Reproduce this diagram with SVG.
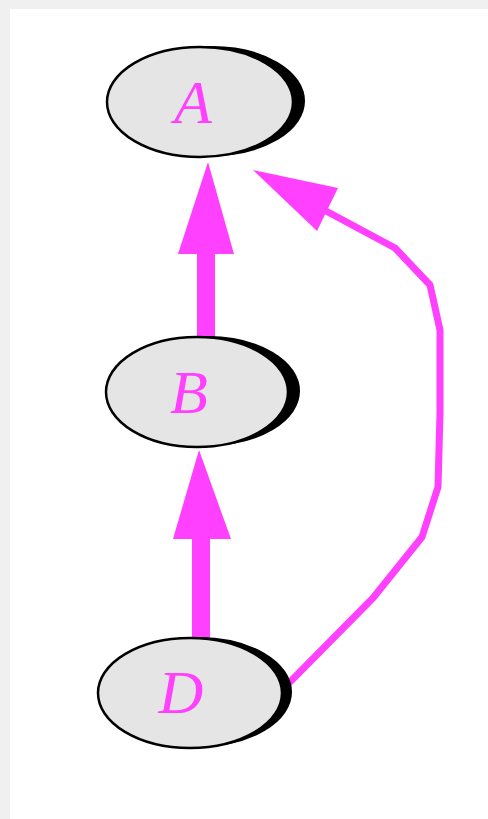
<svg xmlns="http://www.w3.org/2000/svg" width="488" height="819" viewBox="0 0 488 819">
<style>
.shadow{fill:#000;stroke:#000;stroke-width:2}
.node{fill:#e5e5e5;stroke:#000;stroke-width:2.5}
.label{font-family:"Liberation Serif",serif;font-style:italic;font-size:62px;fill:#ff40ff;text-anchor:middle}
.edge{stroke:#ff40ff;fill:none}
.head{fill:#ff40ff;stroke:none}
</style>
<rect x="0" y="0" width="488" height="819" fill="#f0f0f0"/>
<rect x="10" y="9" width="478" height="810" fill="#ffffff"/>
<g id="connectors">
<line class="edge" x1="206" y1="337" x2="206" y2="250" stroke-width="18"/>
<polygon class="head" points="208,162 234,254 178,254"/>
<line class="edge" x1="201" y1="638" x2="201" y2="535" stroke-width="18"/>
<polygon class="head" points="199,450 231,539 173,539"/>
<polyline class="edge" stroke-width="7" stroke-linejoin="round" points="287,685 373,598 422,537 438,487 440,413 440,330 430,285 395,248 326,211"/>
<polygon class="head" points="253,170 338,188 317,231"/>
</g>
<g id="node-A">
<ellipse class="shadow" cx="212" cy="101" rx="92" ry="54"/>
<ellipse class="node" cx="200" cy="102" rx="93" ry="55"/>
<text class="label" x="193" y="123">A</text>
</g>
<g id="node-B">
<ellipse class="shadow" cx="208" cy="391" rx="91" ry="54"/>
<ellipse class="node" cx="197" cy="392" rx="91" ry="55"/>
<text class="label" x="189" y="413">B</text>
</g>
<g id="node-D">
<ellipse class="shadow" cx="199" cy="692" rx="92" ry="54"/>
<ellipse class="node" cx="190" cy="693" rx="92" ry="55"/>
<text class="label" x="181" y="713">D</text>
</g>
</svg>
